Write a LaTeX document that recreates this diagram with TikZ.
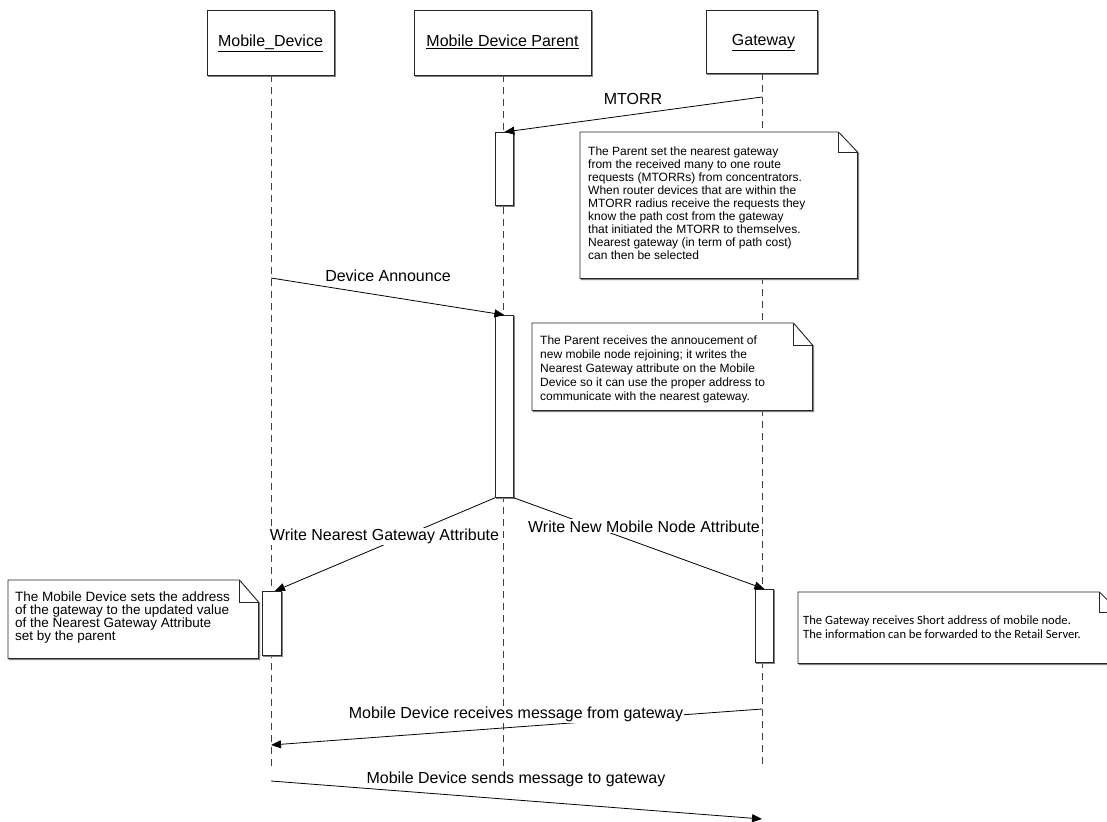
\documentclass[tikz,border=0pt]{standalone}
\usepackage{fontspec}
\setmainfont{Liberation Sans}
\newfontfamily\calib{Carlito}
\usetikzlibrary{arrows.meta,calc,shadows}
\newcommand\notedraw[3]{%
  \path[fill=black!55,draw=black!55,line width=0.8pt]
    ([shift={(1.3,1.3)}]#1.north west) -- ([shift={(1.3-#2,1.3)}]#1.north east)
    -- ([shift={(1.3,1.3+#3)}]#1.north east) -- ([shift={(1.3,1.3)}]#1.south east)
    -- ([shift={(1.3,1.3)}]#1.south west) -- cycle;
  \draw[noteline,fill=white]
    (#1.north west) -- ([shift={(-#2,0)}]#1.north east)
    -- ([shift={(0,#3)}]#1.north east) -- (#1.south east) -- (#1.south west) -- cycle;
  \draw[noteline]
    ([shift={(-#2,0)}]#1.north east) -- ([shift={(-#2,#3)}]#1.north east) -- ([shift={(0,#3)}]#1.north east);
}
\begin{document}
\begin{tikzpicture}[x=1pt,y=-1pt,
  shad/.style={copy shadow={shadow xshift=1.4pt,shadow yshift=-1.4pt,draw=black!50,fill=black!50}},
  hdr/.style={draw=black!85,line width=0.8pt,fill=white,shad,inner sep=0,
    font=\fontsize{16}{18}\selectfont},
  lifeline/.style={draw=black!75,line width=0.8pt,dash pattern=on 7pt off 5pt},
  act/.style={draw=black!85,fill=white,line width=0.8pt,anchor=north west,inner sep=0,shad},
  msg/.style={draw=black,line width=0.8pt,-{Triangle[length=10pt,width=8pt]}},
  lbl/.style={fill=white,inner sep=1pt,font=\fontsize{16}{18}\selectfont,anchor=base},
  hlbl/.style={inner sep=0,font=\fontsize{16}{18}\selectfont,anchor=base},
  notebox/.style={anchor=north west,inner sep=0,draw=none},
  noteline/.style={draw=black!85,line width=0.8pt},
  ntxt/.style={anchor=north west,inner sep=0,align=left},
]
\useasboundingbox (0,0) rectangle (1107,821);
\clip (0,0) rectangle (1107,821);

% headers
\node[hdr,minimum width=127,minimum height=65] (md) at (270.5,42.5) {};
\node[hlbl] (mdt) at (270.5,46.5) {\underline{Mobile\_Device}};
\node[hdr,minimum width=177,minimum height=65] (mp) at (502.5,42.5) {};
\node[hlbl] (mpt) at (502.5,46.5) {\underline{Mobile Device Parent}};
\node[hdr,minimum width=111,minimum height=63] (gw) at (761.5,41.5) {};
\node[hlbl] (gwt) at (763.5,45.5) {\underline{Gateway}};

% lifelines
\coordinate (lend) at (0,768);
\draw[lifeline] ([xshift=0.5]md.south) -- ([xshift=0.5]md.south |- lend);
\draw[lifeline] ([xshift=0.5]mp.south) -- ([xshift=0.5]mp.south |- lend);
\draw[lifeline] ([xshift=0.5]gw.south) -- ([xshift=0.5]gw.south |- lend);

% activations
\node[act,minimum width=18,minimum height=73] (pa1) at (495,132) {};
\node[act,minimum width=18,minimum height=182] (pa2) at (495,315) {};
\node[act,minimum width=19,minimum height=64] (mda) at (262,591) {};
\node[act,minimum width=18,minimum height=73] (gwa) at (755,589) {};

% notes
\node[notebox,minimum width=277,minimum height=146] (n1) at (580,132) {};
\notedraw{n1}{19}{20}
\node[ntxt,font=\fontsize{12}{13}\selectfont] (t1) at (588,146.5) {The Parent set the nearest gateway\\
from the received many to one route\\
requests (MTORRs) from concentrators.\\
When router devices that are within the\\
MTORR radius receive the requests they\\
know the path cost from the gateway\\
that initiated the MTORR to themselves.\\
Nearest gateway (in term of path cost)\\
can then be selected};

\node[notebox,minimum width=280,minimum height=87] (n2) at (532,323) {};
\notedraw{n2}{19}{22}
\node[ntxt,font=\fontsize{12}{14}\selectfont] (t2) at (540,336) {The Parent receives the annoucement of\\
new mobile node rejoining; it writes the\\
Nearest Gateway attribute on the Mobile\\
Device so it can use the proper address to\\
communicate with the nearest gateway.};

\node[notebox,minimum width=250,minimum height=78] (n3) at (8,580) {};
\notedraw{n3}{19}{22}
\node[ntxt,font=\fontsize{13.5}{13}\selectfont] (t3) at (15,592) {The Mobile Device sets the address\\
of the gateway to the updated value\\
of the Nearest Gateway Attribute\\
set by the parent};

\node[notebox,minimum width=321,minimum height=71] (n4) at (798,592) {};
\notedraw{n4}{20}{20}
\node[ntxt,font=\calib\fontsize{12.6}{13.8}\selectfont] (t4) at (803,615.5) {The Gateway receives Short address of mobile node.\\
The information can be forwarded to the Retail Server.};

% messages
\coordinate (m1s) at (762,97);
\draw[msg] (m1s) -- (pa1.north);
\node[lbl] (l1) at (633,105) {MTORR};

\coordinate (m2s) at (271,278);
\draw[msg] (m2s) -- (pa2.north);
\node[lbl] (l2) at (388,281) {Device Announce};

\draw[msg] (pa2.south west) -- ([xshift=3]mda.north);
\node[lbl] (l3) at (384.5,540.5) {Write Nearest Gateway Attribute};

\draw[msg] (pa2.south east) -- (gwa.north);
\node[lbl] (l4) at (644,532) {Write New Mobile Node Attribute};

\coordinate (m5s) at (762,709);
\coordinate (m5e) at (271,745);
\draw[msg] (m5s) -- (m5e);
\node[lbl] (l5) at (516,718.7) {Mobile Device receives message from gateway};

\coordinate (m6s) at (271,781);
\coordinate (m6e) at (762,819);
\draw[msg] (m6s) -- (m6e);
\node[lbl] (l6) at (516,783.3) {Mobile Device sends message to gateway};
\end{tikzpicture}
\end{document}
